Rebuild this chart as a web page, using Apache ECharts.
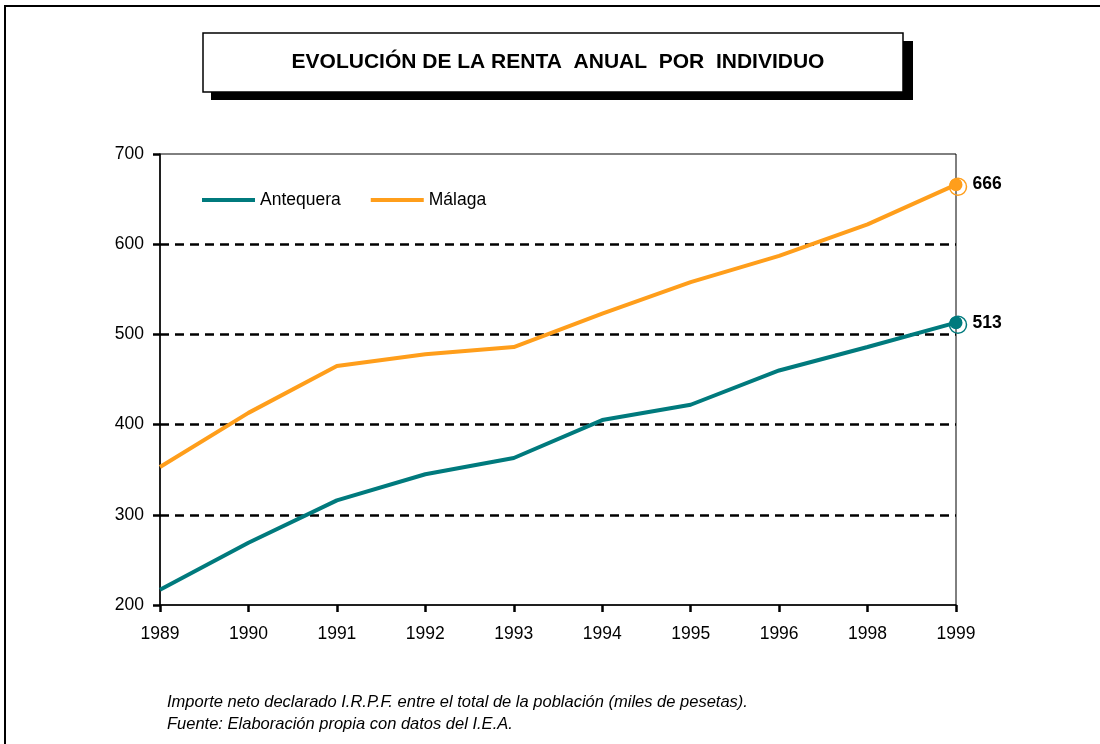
<!DOCTYPE html>
<html>
<head>
<meta charset="utf-8">
<script src="https://cdn.jsdelivr.net/npm/echarts@6/dist/echarts.min.js"></script>
<style>
  html, body { margin: 0; padding: 0; background: #fff; }
  #chart { width: 1100px; height: 744px; }
</style>
</head>
<body>
<div id="chart"></div>
<script>
var years = ['1989', '1990', '1991', '1992', '1993', '1994', '1995', '1996', '1998', '1999'];
var antequera = [217, 269, 316, 345, 363, 405, 422, 460, 486, 513];
var malaga = [353, 413, 465, 478, 486, 523, 558, 587, 622, 666];
var yTicks = { min: 200, max: 700, interval: 100 };

var teal = '#007a7d';
var orange = '#ff9e1b';
var font = '"Liberation Sans", Arial, sans-serif';

// ultimo punto con circulo y etiqueta en negrita
function withEnd(arr, color) {
    var last = arr.length - 1;
    return arr.map(function (v, i) {
        if (i !== last) return v;
        return {
            value: v,
            symbol: 'circle',
            symbolSize: 13,
            itemStyle: { color: color },
            label: {
                show: true,
                position: 'right',
                distance: 10,
                color: '#000',
                fontWeight: 'bold',
                fontSize: 17.5,
                fontFamily: font
            }
        };
    });
}

function ring(arr, color) {
    var last = arr.length - 1;
    return {
        silent: true,
        label: { show: false },
        data: [{
            coord: [years[last], arr[last]],
            symbol: 'circle',
            symbolSize: 17,
            symbolOffset: [2, 2],
            itemStyle: { color: 'rgba(0,0,0,0)', borderColor: color, borderWidth: 1.5 }
        }]
    };
}

var chart = echarts.init(document.getElementById('chart'));
var option = {
    animation: false,
    backgroundColor: '#fff',
    textStyle: { fontFamily: font },
    graphic: [
        // marco general
        { type: 'rect', shape: { x: 5, y: 6, width: 1200, height: 800 },
          style: { fill: 'none', stroke: '#000', lineWidth: 2 } },
        // sombra del titulo
        { type: 'rect', shape: { x: 211, y: 41, width: 702, height: 59 },
          style: { fill: '#000' } },
        { type: 'rect', shape: { x: 203, y: 33, width: 700, height: 59 },
          style: { fill: '#fff', stroke: '#000', lineWidth: 1.5 } },
        { type: 'text', x: 558, y: 62,
          style: { text: 'EVOLUCIÓN DE LA RENTA  ANUAL  POR  INDIVIDUO', fill: '#000',
                   font: 'bold 21px ' + font, textAlign: 'center', textVerticalAlign: 'middle' } },
        // nota al pie
        { type: 'text', x: 167, y: 702,
          style: { text: 'Importe neto declarado I.R.P.F. entre el total de la población (miles de pesetas).',
                   fill: '#000', font: 'italic 16.5px ' + font, textVerticalAlign: 'middle' } },
        { type: 'text', x: 167, y: 724,
          style: { text: 'Fuente: Elaboración propia con datos del I.E.A.',
                   fill: '#000', font: 'italic 16.5px ' + font, textVerticalAlign: 'middle' } }
    ],
    legend: {
        left: 197,
        top: 186,
        itemWidth: 53,
        itemHeight: 4,
        itemGap: 30,
        icon: 'rect',
        textStyle: { color: '#000', fontSize: 17.5, fontFamily: font },
        data: ['Antequera', 'Málaga']
    },
    grid: {
        left: 160,
        right: 144,
        top: 154,
        bottom: 139,
        show: true,
        borderColor: '#000',
        borderWidth: 1
    },
    xAxis: {
        type: 'category',
        data: years,
        boundaryGap: false,
        axisLine: { lineStyle: { color: '#000', width: 1.5 } },
        axisTick: { alignWithLabel: true, length: 7, lineStyle: { color: '#000', width: 2.5 } },
        axisLabel: { color: '#000', fontSize: 17.5, margin: 20, fontFamily: font },
        splitLine: { show: false }
    },
    yAxis: {
        type: 'value',
        min: yTicks.min,
        max: yTicks.max,
        interval: yTicks.interval,
        axisLine: { show: true, lineStyle: { color: '#000', width: 1.5 } },
        axisTick: { show: true, length: 7, lineStyle: { color: '#000', width: 2.5 } },
        axisLabel: { color: '#000', fontSize: 17.5, margin: 16, fontFamily: font },
        splitLine: {
            show: true,
            lineStyle: {
                color: ['rgba(0,0,0,0)', '#000', '#000', '#000', '#000', 'rgba(0,0,0,0)'],
                width: 2.5,
                type: [9, 6]
            }
        }
    },
    series: [
        {
            name: 'Antequera',
            type: 'line',
            data: withEnd(antequera, teal),
            symbol: 'none',
            color: teal,
            lineStyle: { width: 4, color: teal },
            markPoint: ring(antequera, teal),
            z: 3
        },
        {
            name: 'Málaga',
            type: 'line',
            data: withEnd(malaga, orange),
            symbol: 'none',
            color: orange,
            lineStyle: { width: 4, color: orange },
            markPoint: ring(malaga, orange),
            z: 3
        }
    ]
};
chart.setOption(option);
window.addEventListener('resize', function () {
    chart.resize();
});
</script>
</body>
</html>
